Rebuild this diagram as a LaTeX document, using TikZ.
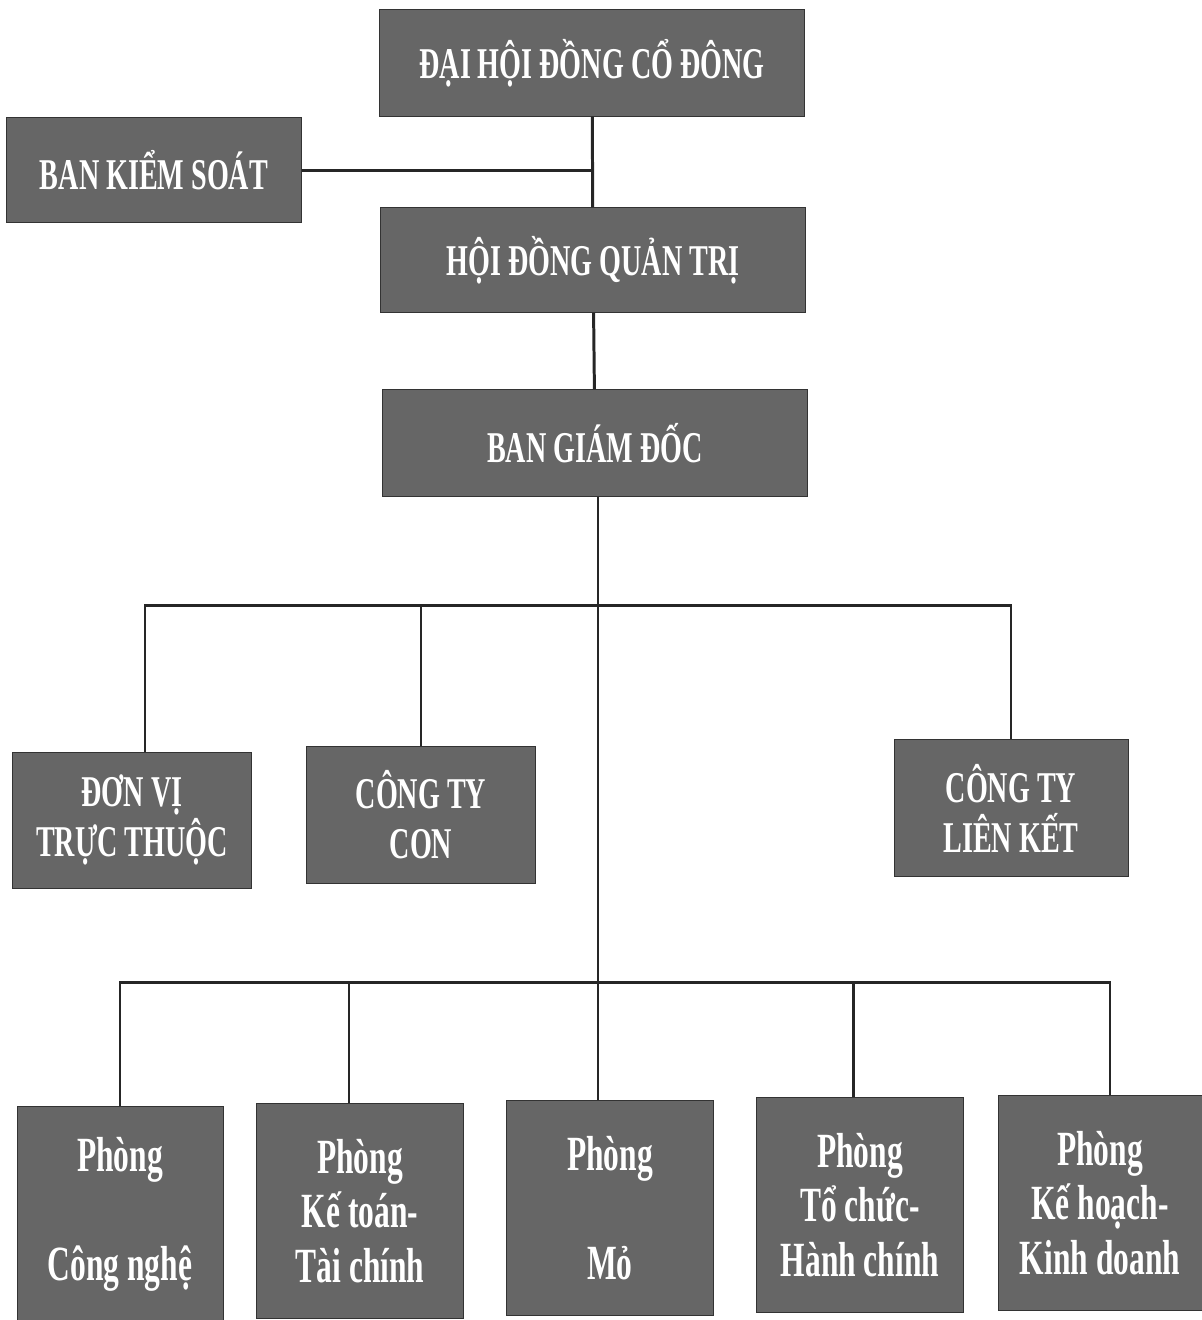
\documentclass[tikz,border=0pt]{standalone}
\usepackage{fontspec}
\setmainfont{Liberation Serif}[FakeStretch=0.64]
\usepackage{tikz}
\usetikzlibrary{positioning}

\begin{document}
\begin{tikzpicture}[
  x=0.02cm, y=-0.02cm,
  unit/.style={draw=black!80, fill=black!60, text=white, font=\bfseries\fontsize{25}{28.5}\selectfont, align=center, inner sep=0pt},
  dept/.style={unit, minimum width=4.15cm, minimum height=4.3cm, font=\bfseries\fontsize{28}{31}\selectfont},
  link/.style={line width=1.7pt, draw=black!85}
]
\useasboundingbox (0,0) rectangle (1202,1320);

% top levels
\node[unit, minimum width=8.5cm, minimum height=2.14cm] (dhdcd) at (592,63) {ĐẠI HỘI ĐỒNG CỔ ĐÔNG};
\node[unit, minimum width=5.9cm, minimum height=2.1cm] (bks) at (154,170) {BAN KIỂM SOÁT};
\node[unit, minimum width=8.5cm, minimum height=2.1cm] (hdqt) at (593,260) {HỘI ĐỒNG QUẢN TRỊ};
\node[unit, minimum width=8.5cm, minimum height=2.14cm] (bgd) at (595,443) {BAN GIÁM ĐỐC};

% units
\node[unit, minimum width=4.78cm, minimum height=2.72cm] (dvtt) at (132,820) {ĐƠN VỊ\\TRỰC THUỘC};
\node[unit, minimum width=4.58cm, minimum height=2.74cm] (ctc) at (421,815) {CÔNG TY\\CON};
\node[unit, minimum width=4.68cm, minimum height=2.74cm] (ctlk) at (1011,808) {CÔNG TY\\LIÊN KẾT};

% departments
\node[dept, minimum width=4.12cm] (cn) at (120,1214) {Phòng\\~\\Công nghệ};
\node[dept] (kt) at (360,1211) {Phòng\\Kế toán-\\Tài chính};
\node[dept] (mo) at (610,1208) {Phòng\\~\\Mỏ};
\node[dept] (tc) at (860,1205) {Phòng\\Tổ chức-\\Hành chính};
\node[dept, minimum width=4.08cm] (kh) at (1100,1203) {Phòng\\Kế hoạch-\\Kinh doanh};

\coordinate (busa) at (598,605);
\coordinate (busb) at (598,982);

\draw[link] (dhdcd) -- (hdqt);
\draw[link] (bks.east) -- (bks.east -| dhdcd.south);
\draw[link] (hdqt) -- (bgd);
\draw[link] (bgd.south -| busa) -- (busa |- mo.north);

\draw[link] ([xshift=0.26cm]dvtt.north) |- (busa) -| (ctlk.north);
\draw[link] (ctc.north) -- (ctc.north |- busa);

\draw[link] (cn.north) |- (busb) -| ([xshift=0.2cm]kh.north);
\draw[link] ([xshift=-0.22cm]kt.north) -- ([xshift=-0.22cm]kt.north |- busb);
\draw[link] ([xshift=-0.14cm]tc.north) -- ([xshift=-0.14cm]tc.north |- busb);
\end{tikzpicture}
\end{document}
